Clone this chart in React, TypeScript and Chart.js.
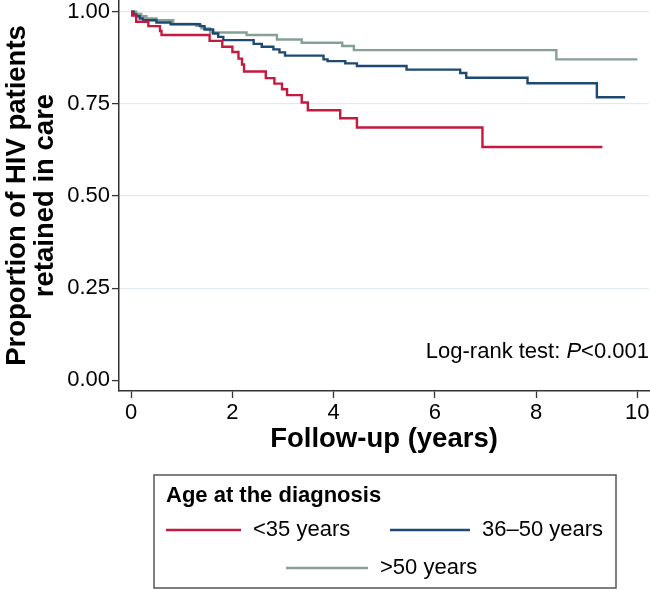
import React, { useEffect, useRef } from 'react';
import { Chart, registerables } from 'chart.js';

Chart.register(...registerables);

const FONT = '"Liberation Sans", Arial, Helvetica, sans-serif';

// Series labels and colours
const seriesLabels = ['<35 years', '36–50 years', '>50 years'];
const seriesColors = ['#c41a3f', '#1c4a72', '#86a095'];

// Kaplan–Meier steps: time (years) and retained proportion
const redT = [0, 0.02, 0.1, 0.34, 0.57, 0.6, 1.55, 1.8, 2.0, 2.12, 2.19, 2.23, 2.66, 2.83, 2.98, 3.08, 3.37, 3.49, 4.13, 4.46, 6.94, 9.31];
const redV = [1.0, 0.99, 0.973, 0.961, 0.948, 0.937, 0.921, 0.905, 0.891, 0.873, 0.857, 0.838, 0.82, 0.805, 0.79, 0.774, 0.754, 0.733, 0.711, 0.686, 0.633, 0.633];

const blueT = [0, 0.05, 0.1, 0.17, 0.24, 0.5, 0.78, 1.36, 1.45, 1.62, 1.72, 1.82, 2.42, 2.58, 2.81, 2.93, 3.04, 3.8, 3.88, 4.23, 4.46, 5.44, 6.5, 6.62, 7.83, 9.2, 9.76];
const blueV = [1.0, 0.993, 0.988, 0.982, 0.977, 0.971, 0.966, 0.961, 0.952, 0.941, 0.932, 0.923, 0.913, 0.905, 0.898, 0.89, 0.881, 0.871, 0.866, 0.86, 0.853, 0.843, 0.834, 0.821, 0.806, 0.768, 0.768];

const greenT = [0, 0.1, 0.2, 0.3, 0.5, 0.83, 1.29, 1.39, 1.56, 2.28, 2.88, 3.37, 4.17, 4.4, 8.4, 10.0];
const greenV = [1.0, 0.994, 0.988, 0.982, 0.977, 0.967, 0.962, 0.955, 0.944, 0.937, 0.925, 0.916, 0.907, 0.896, 0.871, 0.871];

// Axes
const xTicks = [0, 2, 4, 6, 8, 10];
const yTicks = [0, 0.25, 0.5, 0.75, 1.0];
const xTitle = 'Follow-up (years)';
const yTitle = ['Proportion of HIV patients', 'retained in care'];
const legendTitle = 'Age at the diagnosis';
const testText = ['Log-rank test: ', 'P', '<0.001'];

const toPoints = (t: number[], v: number[]) => t.map((x, i) => ({ x, y: v[i] }));

const overlayPlugin = {
  id: 'overlay',
  afterDraw(chart: any) {
    const ctx = chart.ctx as CanvasRenderingContext2D;
    const area = chart.chartArea;
    const yScale = chart.scales.y;
    ctx.save();
    ctx.fillStyle = '#000';
    ctx.textBaseline = 'middle';

    // Log-rank annotation (right aligned inside plot)
    const normal = `22px ${FONT}`;
    const italic = `italic 22px ${FONT}`;
    ctx.font = normal;
    const w1 = ctx.measureText(testText[0]).width;
    const w3 = ctx.measureText(testText[2]).width;
    ctx.font = italic;
    const w2 = ctx.measureText(testText[1]).width;
    const ty = yScale.getPixelForValue(0.077);
    let tx = area.right - (w1 + w2 + w3);
    ctx.textAlign = 'left';
    ctx.font = normal;
    ctx.fillText(testText[0], tx, ty);
    tx += w1;
    ctx.font = italic;
    ctx.fillText(testText[1], tx, ty);
    tx += w2;
    ctx.font = normal;
    ctx.fillText(testText[2], tx, ty);

    // Legend box
    const bx = 154, by = 475, bw = 462, bh = 113;
    ctx.strokeStyle = '#555';
    ctx.lineWidth = 1.5;
    ctx.strokeRect(bx, by, bw, bh);

    ctx.font = `bold 22px ${FONT}`;
    ctx.fillText(legendTitle, 166, 496);

    const items = [
      { x1: 166, x2: 241, tx: 253, y: 530 },
      { x1: 390, x2: 470, tx: 482, y: 530 },
      { x1: 286, x2: 368, tx: 380, y: 568 },
    ];
    ctx.font = `22px ${FONT}`;
    items.forEach((it, i) => {
      const ds = chart.data.datasets[i];
      ctx.strokeStyle = ds.borderColor;
      ctx.lineWidth = 2.5;
      ctx.beginPath();
      ctx.moveTo(it.x1, it.y);
      ctx.lineTo(it.x2, it.y);
      ctx.stroke();
      ctx.fillStyle = '#000';
      ctx.fillText(ds.label, it.tx, it.y);
    });
    ctx.restore();
  },
};

export default function App() {
  const ref = useRef<HTMLCanvasElement | null>(null);

  useEffect(() => {
    document.body.style.margin = '0';
    const canvas = ref.current;
    if (!canvas) return;
    Chart.defaults.font.family = FONT;
    const series = [toPoints(redT, redV), toPoints(blueT, blueV), toPoints(greenT, greenV)];
    const chart = new Chart(canvas, {
      type: 'line',
      data: {
        datasets: series.map((d, i) => ({
          label: seriesLabels[i],
          data: d,
          borderColor: seriesColors[i],
          backgroundColor: seriesColors[i],
          borderWidth: 2.4,
          pointRadius: 0,
          stepped: 'before' as const,
          fill: false,
        })),
      },
      options: {
        responsive: false,
        animation: false,
        layout: { padding: { left: 0, right: 1, top: 0, bottom: 130 } },
        plugins: { legend: { display: false }, tooltip: { enabled: false } },
        scales: {
          x: {
            type: 'linear',
            min: -0.24,
            max: 10.23,
            afterBuildTicks: (s: any) => {
              s.ticks = xTicks.map((v) => ({ value: v }));
            },
            afterFit: (s: any) => {
              s.height = 69;
              s.paddingLeft = 0;
              s.paddingRight = 0;
            },
            grid: {
              display: true,
              drawOnChartArea: false,
              drawTicks: true,
              tickLength: 7,
              tickColor: '#333',
              tickWidth: 1.3,
            },
            border: { display: true, color: '#333', width: 1.5 },
            ticks: {
              font: { size: 22 },
              color: '#000',
              padding: 2,
              maxRotation: 0,
              callback: (v: any) => String(v),
            },
            title: {
              display: true,
              text: xTitle,
              color: '#000',
              font: { size: 27.5, weight: 'bold' },
              padding: { top: 0, bottom: 4 },
            },
          },
          y: {
            type: 'linear',
            min: -0.029,
            max: 1.032,
            afterBuildTicks: (s: any) => {
              s.ticks = yTicks.map((v) => ({ value: v }));
            },
            afterFit: (s: any) => {
              s.width = 119;
              s.paddingTop = 0;
              s.paddingBottom = 0;
            },
            grid: {
              display: true,
              drawOnChartArea: true,
              drawTicks: true,
              tickLength: 7,
              tickColor: '#333',
              tickWidth: 1.3,
              lineWidth: 1.2,
              color: (c: any) => (c.tick && c.tick.value === 0 ? 'rgba(0,0,0,0)' : '#e2e9ef'),
            },
            border: { display: true, color: '#333', width: 1.5 },
            ticks: {
              font: { size: 22 },
              color: '#000',
              padding: 2,
              callback: (v: any) => Number(v).toFixed(2),
            },
            title: {
              display: true,
              text: yTitle,
              color: '#000',
              font: { size: 27.5, weight: 'bold', lineHeight: 1.03 },
              padding: { top: 3, bottom: 0 },
            },
          },
        },
      },
      plugins: [overlayPlugin],
    });
    return () => chart.destroy();
  }, []);

  return (
    <div style={{ width: 650, height: 590 }}>
      <canvas ref={ref} width={650} height={590} style={{ display: 'block' }} />
    </div>
  );
}
